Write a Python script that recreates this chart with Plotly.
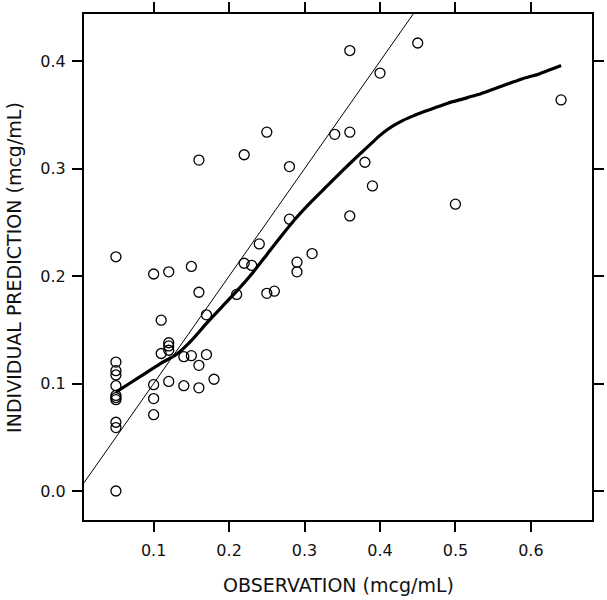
import plotly.graph_objects as go

# Observed vs individual prediction (mcg/mL)
obs = [0.05, 0.05, 0.05, 0.05, 0.05, 0.05, 0.05, 0.05, 0.05, 0.05, 0.05,
       0.10, 0.10, 0.10, 0.10,
       0.11, 0.11, 0.12, 0.12, 0.12, 0.12, 0.12,
       0.14, 0.15, 0.17, 0.16, 0.14, 0.16, 0.18,
       0.15, 0.16, 0.17, 0.16,
       0.21, 0.22, 0.22, 0.23, 0.24, 0.25, 0.25, 0.26,
       0.28, 0.28, 0.29, 0.29, 0.31,
       0.34, 0.36, 0.36, 0.36, 0.38, 0.39, 0.40, 0.45, 0.50, 0.64]
ipred = [0.218, 0.120, 0.112, 0.108, 0.098, 0.089, 0.087, 0.085, 0.064, 0.059, 0.000,
         0.202, 0.099, 0.086, 0.071,
         0.159, 0.128, 0.204, 0.138, 0.135, 0.131, 0.102,
         0.125, 0.126, 0.127, 0.117, 0.098, 0.096, 0.104,
         0.209, 0.185, 0.164, 0.308,
         0.183, 0.212, 0.313, 0.210, 0.230, 0.334, 0.184, 0.186,
         0.253, 0.302, 0.213, 0.204, 0.221,
         0.332, 0.334, 0.410, 0.256, 0.306, 0.284, 0.389, 0.417, 0.267, 0.364]

# Loess smoother
smooth_x = [0.05, 0.07, 0.09, 0.11, 0.13, 0.15, 0.17, 0.19, 0.21, 0.23, 0.25, 0.27,
            0.29, 0.31, 0.33, 0.35, 0.37, 0.38, 0.39, 0.40, 0.41, 0.42, 0.43, 0.44,
            0.45, 0.47, 0.49, 0.51, 0.53, 0.55, 0.57, 0.59, 0.61, 0.64]
smooth_y = [0.092, 0.101, 0.110, 0.119, 0.127, 0.140, 0.156, 0.171, 0.186, 0.202, 0.220, 0.238,
            0.255, 0.270, 0.284, 0.298, 0.3115, 0.318, 0.3245, 0.331, 0.3365, 0.341, 0.3448, 0.348,
            0.351, 0.356, 0.361, 0.365, 0.369, 0.374, 0.379, 0.384, 0.388, 0.396]

identity = [0.0, 0.7]

x_ticks = [0.1, 0.2, 0.3, 0.4, 0.5, 0.6]
y_ticks = [0.0, 0.1, 0.2, 0.3, 0.4]

fig = go.Figure()
fig.add_trace(go.Scatter(x=identity, y=identity, mode="lines",
                         line=dict(color="black", width=1), hoverinfo="skip"))
fig.add_trace(go.Scatter(x=obs, y=ipred, mode="markers",
                         marker=dict(symbol="circle-open", size=10, color="black",
                                     line=dict(width=1.3, color="black"))))
fig.add_trace(go.Scatter(x=smooth_x, y=smooth_y, mode="lines",
                         line=dict(color="black", width=3.2, shape="spline", smoothing=0.6)))

font = "DejaVu Sans, Arial, sans-serif"
axis_common = dict(showgrid=False, zeroline=False, showline=True, linecolor="black",
                   linewidth=2, mirror="ticks", ticks="outside", ticklen=10, tickwidth=1.5,
                   tickcolor="black", automargin=False,
                   tickfont=dict(family=font, size=16, color="#111"))

fig.update_layout(
    width=607, height=600,
    margin=dict(l=84, r=15, t=14, b=80),
    paper_bgcolor="white", plot_bgcolor="white",
    showlegend=False,
    xaxis=dict(range=[0.0077, 0.681], tickvals=x_ticks, ticktext=[f"{v:.1f}" for v in x_ticks],
               ticklabelstandoff=5, **axis_common),
    yaxis=dict(range=[-0.027, 0.444], tickvals=y_ticks, ticktext=[f"{v:.1f}" for v in y_ticks],
               ticklabelstandoff=3, **axis_common),
    annotations=[
        dict(text="OBSERVATION (mcg/mL)", xref="paper", yref="paper", x=0.5, y=-0.128,
             xanchor="center", yanchor="middle", showarrow=False,
             font=dict(family=font, size=19, color="#111")),
        dict(text="INDIVIDUAL PREDICTION (mcg/mL)", xref="paper", yref="paper", x=-0.138, y=0.5,
             xanchor="center", yanchor="middle", textangle=-90, showarrow=False,
             font=dict(family=font, size=19, color="#111")),
    ],
)

fig.write_html("out.html", config={"displayModeBar": False},
               post_script="document.body.style.margin='0';document.body.style.overflow='hidden';")
